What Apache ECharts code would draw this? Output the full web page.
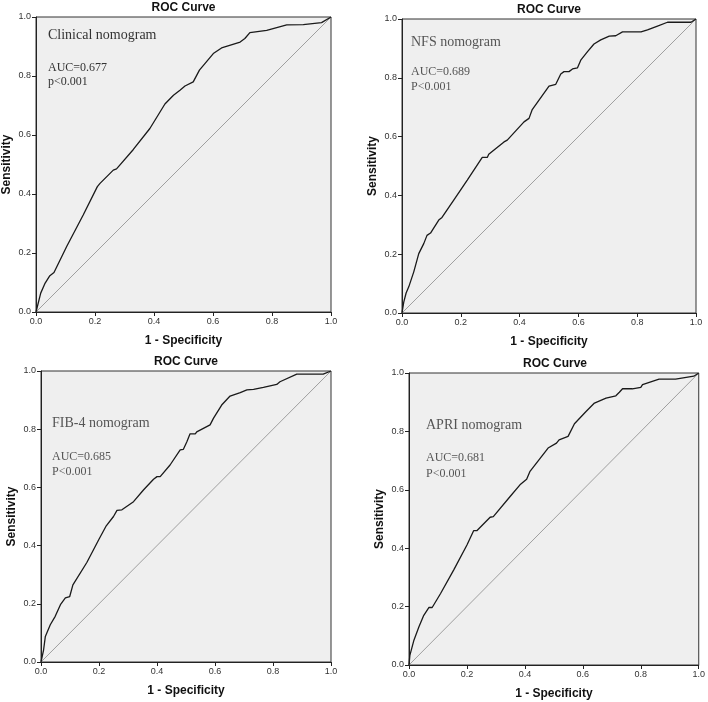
<!DOCTYPE html>
<html><head><meta charset="utf-8">
<script src="https://cdn.jsdelivr.net/npm/echarts@6/dist/echarts.min.js"></script>
<style>html,body{margin:0;padding:0;background:#fff}#c{width:708px;height:702px}</style>
</head><body><div id="c"></div>
<script>
// Panel 1: Clinical nomogram
const fpr1 = [0,0.016,0.031,0.047,0.061,0.104,0.160,0.208,0.217,0.262,0.273,0.330,0.386,0.437,0.466,0.488,0.505,0.533,0.554,0.601,0.629,0.692,0.708,0.725,0.782,0.850,0.906,0.968,1];
const tpr1 = [0,0.064,0.098,0.123,0.134,0.222,0.329,0.425,0.436,0.481,0.485,0.551,0.622,0.705,0.735,0.752,0.766,0.780,0.820,0.876,0.895,0.915,0.927,0.947,0.955,0.973,0.974,0.981,1];
// Panel 2: NFS nomogram
const fpr2 = [0,0.006,0.014,0.023,0.040,0.057,0.074,0.085,0.097,0.125,0.136,0.176,0.222,0.273,0.290,0.295,0.347,0.358,0.415,0.432,0.443,0.500,0.523,0.540,0.551,0.568,0.580,0.597,0.608,0.631,0.653,0.676,0.705,0.727,0.750,0.813,0.835,0.869,0.903,0.983,1];
const tpr2 = [0,0.037,0.068,0.089,0.140,0.202,0.236,0.264,0.272,0.316,0.325,0.384,0.452,0.529,0.529,0.540,0.582,0.588,0.650,0.662,0.692,0.772,0.778,0.813,0.821,0.821,0.830,0.834,0.860,0.889,0.915,0.929,0.942,0.943,0.956,0.956,0.963,0.976,0.989,0.989,1];
// Panel 3: FIB-4 nomogram
const fpr3 = [0,0.009,0.015,0.032,0.049,0.067,0.084,0.099,0.110,0.158,0.199,0.225,0.250,0.262,0.279,0.319,0.354,0.388,0.400,0.411,0.445,0.480,0.491,0.503,0.514,0.532,0.537,0.583,0.595,0.623,0.652,0.687,0.710,0.733,0.767,0.813,0.824,0.882,0.973,1];
const tpr3 = [0,0.042,0.088,0.128,0.157,0.197,0.220,0.225,0.265,0.342,0.420,0.468,0.500,0.521,0.523,0.551,0.592,0.628,0.637,0.637,0.677,0.729,0.731,0.757,0.784,0.784,0.791,0.815,0.838,0.883,0.914,0.926,0.935,0.937,0.944,0.954,0.963,0.989,0.989,1];
// Panel 4: APRI nomogram
const fpr4 = [0,0.003,0.017,0.034,0.051,0.069,0.080,0.109,0.154,0.200,0.223,0.234,0.280,0.291,0.349,0.383,0.406,0.417,0.480,0.509,0.518,0.549,0.571,0.611,0.640,0.680,0.714,0.726,0.737,0.771,0.800,0.806,0.863,0.920,0.983,1];
const tpr4 = [0,0.033,0.085,0.130,0.170,0.197,0.197,0.245,0.325,0.411,0.460,0.460,0.506,0.508,0.577,0.617,0.636,0.662,0.743,0.760,0.771,0.783,0.826,0.868,0.897,0.914,0.922,0.934,0.946,0.946,0.951,0.960,0.979,0.979,0.989,1];

const panelTitles = ['ROC Curve','ROC Curve','ROC Curve','ROC Curve'];
const modelNames = ['Clinical nomogram','NFS nomogram','FIB-4 nomogram','APRI nomogram'];
const aucLabels = ['AUC=0.677','AUC=0.689','AUC=0.685','AUC=0.681'];
const pLabels = ['p<0.001','P<0.001','P<0.001','P<0.001'];
const xName = '1 - Specificity';
const yName = 'Sensitivity';
const diagX = [0,1];
const diagY = [0,1];

const curves = [[fpr1,tpr1],[fpr2,tpr2],[fpr3,tpr3],[fpr4,tpr4]];

const grids = [
  {left:36, top:17, width:295, height:295},
  {left:402, top:19, width:294, height:294},
  {left:41, top:371, width:290, height:291},
  {left:409, top:373, width:292, height:292}
];
const textPos = [
  {name:[48,35], auc:[48,68], p:[48,82], color:'#333'},
  {name:[411,42], auc:[411,72], p:[411,87], color:'#555'},
  {name:[52,423], auc:[52,457], p:[52,472], color:'#555'},
  {name:[426,425], auc:[426,458], p:[426,474], color:'#555'}
];

const xAxes = [], yAxes = [], series = [], graphics = [];
grids.forEach((g,i)=>{
  g.show = true; g.backgroundColor = '#efefef'; g.borderColor = '#333'; g.borderWidth = 1;
  const common = {
    type:'value', min:0, max:1, interval:0.2, gridIndex:i,
    splitLine:{show:false},
    axisLine:{show:true, lineStyle:{color:'#222', width:1}},
    axisTick:{show:true, inside:false, length:4, lineStyle:{color:'#222'}},
    axisLabel:{fontSize:9, color:'#333', fontFamily:'Liberation Sans, Arial', formatter:v=>v.toFixed(1), margin:5},
    nameLocation:'middle', nameGap:23,
    nameTextStyle:{fontSize:12, fontWeight:'bold', color:'#111', fontFamily:'Liberation Sans, Arial'}
  };
  xAxes.push(Object.assign({}, common, {name:xName}));
  yAxes.push(Object.assign({}, common, {name:yName, nameRotate:90}));
  series.push({
    type:'line', xAxisIndex:i, yAxisIndex:i, showSymbol:false, silent:true,
    data: diagX.map((x,k)=>[x, diagY[k]]),
    lineStyle:{color:'#8a8a8a', width:0.8}, z:2
  });
  series.push({
    type:'line', xAxisIndex:i, yAxisIndex:i, showSymbol:false, silent:true,
    data: curves[i][0].map((x,k)=>[x, curves[i][1][k]]),
    lineStyle:{color:'#1a1a1a', width:1.3}, z:3
  });
  const cx = g.left + g.width/2;
  graphics.push({type:'text', x:cx, y:g.top-9, style:{text:panelTitles[i], font:'bold 12px "Liberation Sans", Arial', fill:'#111', align:'center', verticalAlign:'middle'}});
  const t = textPos[i];
  graphics.push({type:'text', x:t.name[0], y:t.name[1], style:{text:modelNames[i], font:'14px "Liberation Serif", serif', fill:t.color, verticalAlign:'middle'}});
  graphics.push({type:'text', x:t.auc[0], y:t.auc[1], style:{text:aucLabels[i], font:'12px "Liberation Serif", serif', fill:t.color, verticalAlign:'middle'}});
  graphics.push({type:'text', x:t.p[0], y:t.p[1], style:{text:pLabels[i], font:'12px "Liberation Serif", serif', fill:t.color, verticalAlign:'middle'}});
});

const chart = echarts.init(document.getElementById('c'), null, {renderer:'canvas'});
chart.setOption({
  animation:false,
  backgroundColor:'#fff',
  grid: grids, xAxis: xAxes, yAxis: yAxes, series: series, graphic: graphics
});
</script></body></html>
